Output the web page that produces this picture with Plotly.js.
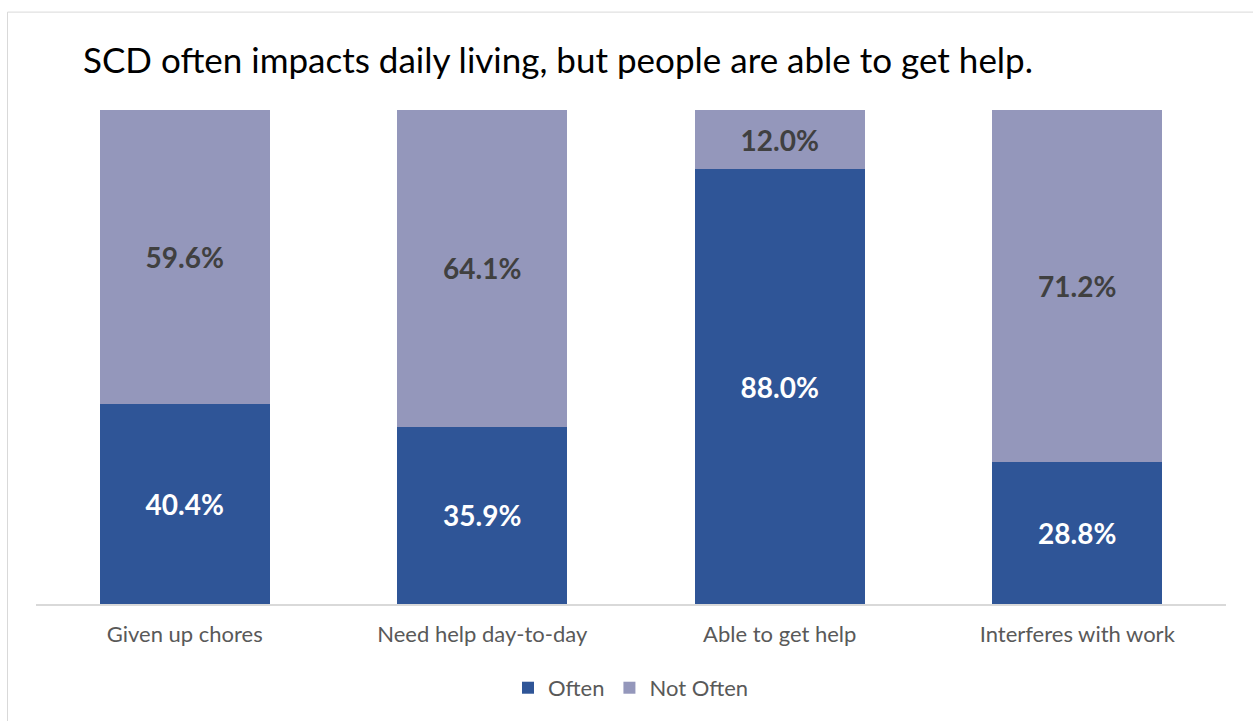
<!DOCTYPE html>
<html>
<head>
<meta charset="utf-8">
<script src="https://cdn.plot.ly/plotly-3.0.1.min.js"></script>
<style>
html,body{margin:0;padding:0;background:#fff;overflow:hidden;}
#chart{width:1253px;height:721px;}
</style>
</head>
<body>
<div id="chart"></div>
<script>
const categories = ["Given up chores", "Need help day-to-day", "Able to get help", "Interferes with work"];
const often = [40.4, 35.9, 88.0, 28.8];
const notOften = [59.6, 64.1, 12.0, 71.2];
const seriesNames = ["Often", "Not Often"];
const titleText = "SCD often impacts daily living, but people are able to get help.";

const W = 1253, H = 721;
const L = 36, R = 27, T = 109.5, B = 117;
const plotW = W - L - R, plotH = H - T - B;
const FONT = "Lato, 'Open Sans', sans-serif";

const fmt = v => v.toFixed(1) + "%";

const traces = [
  {
    type: "bar", name: seriesNames[0], x: categories, y: often,
    marker: {color: "#2F5597"},
    text: often.map(fmt), textposition: "inside", insidetextanchor: "middle",
    textfont: {family: FONT, size: 28, color: "#ffffff", weight: 700},
    constraintext: "none", hoverinfo: "skip"
  },
  {
    type: "bar", name: seriesNames[1], x: categories, y: notOften,
    marker: {color: "#9497BB"},
    text: notOften.map(fmt), textposition: "inside", insidetextanchor: "middle",
    textfont: {family: FONT, size: 28, color: "#404040", weight: 700},
    constraintext: "none", hoverinfo: "skip"
  }
];

const layout = {
  width: W, height: H,
  margin: {l: L, r: R, t: T, b: B, pad: 0},
  paper_bgcolor: "#ffffff", plot_bgcolor: "#ffffff",
  barmode: "stack", bargap: 0.429,
  font: {family: FONT, color: "#595959"},
  title: {
    text: titleText, font: {family: FONT, size: 35, color: "#000000"},
    xref: "container", yref: "container",
    x: 83 / W, xanchor: "left", y: 1 - 61 / H, yanchor: "middle"
  },
  xaxis: {
    showline: true, linecolor: "#d9d9d9", linewidth: 2,
    showgrid: false, zeroline: false, ticks: "",
    ticklabelstandoff: 10,
    tickfont: {family: FONT, size: 22, color: "#595959"},
    fixedrange: true
  },
  yaxis: {visible: false, range: [0, 100], fixedrange: true},
  showlegend: true,
  legend: {
    orientation: "h", x: 0.5, xanchor: "center",
    y: (604 - 688) / plotH, yanchor: "middle",
    font: {family: FONT, size: 22, color: "#595959"},
    traceorder: "normal", itemclick: false, itemdoubleclick: false
  },
  shapes: [{
    type: "rect", xref: "paper", yref: "paper", layer: "below",
    x0: (7.5 - L) / plotW, x1: (W + 20 - L) / plotW,
    y0: (604 - (H + 20)) / plotH, y1: (604 - 11.5) / plotH,
    line: {color: "#d9d9d9", width: 1}, fillcolor: "rgba(0,0,0,0)"
  }]
};

Plotly.newPlot("chart", traces, layout, {displayModeBar: false, staticPlot: true});
</script>
</body>
</html>
